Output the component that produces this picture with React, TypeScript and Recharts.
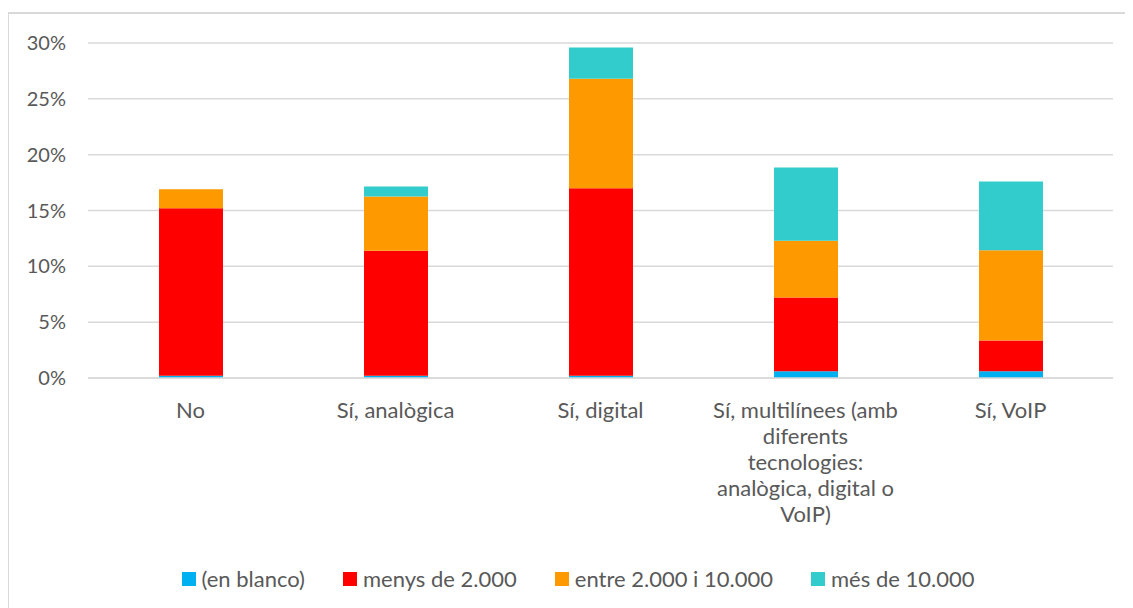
import { BarChart, Bar, XAxis, YAxis, CartesianGrid, Legend } from "recharts";

const categories = [
  "No",
  "Sí, analògica",
  "Sí, digital",
  "Sí, multilínees (amb\ndiferents\ntecnologies:\nanalògica, digital o\nVoIP)",
  "Sí, VoIP"
];
const enBlanco = [0.2, 0.2, 0.2, 0.6, 0.6];
const menys2000 = [15.0, 11.2, 16.8, 6.6, 2.75];
const entre2000i10000 = [1.7, 4.85, 9.8, 5.1, 8.1];
const mes10000 = [0, 0.9, 2.8, 6.55, 6.15];
const yTicks = [0, 5, 10, 15, 20, 25, 30];

const series = [
  { key: "blanco", name: "(en blanco)", color: "#00B0F0", values: enBlanco },
  { key: "menys", name: "menys de 2.000", color: "#FF0000", values: menys2000 },
  { key: "entre", name: "entre 2.000 i 10.000", color: "#FF9900", values: entre2000i10000 },
  { key: "mes", name: "més de 10.000", color: "#33CCCC", values: mes10000 }
];

const data = categories.map((c, i) => {
  const row: Record<string, string | number> = { name: c };
  series.forEach((s) => (row[s.key] = s.values[i]));
  return row;
});

const FONT = "Lato, 'Open Sans', sans-serif";
const TEXT = "#595959";

const CategoryTick = (props: any) => {
  const { x, y, payload } = props;
  const lines = String(payload.value).split("\n");
  return (
    <text x={x} y={y} textAnchor="middle" fill={TEXT} fontFamily={FONT} fontSize={22}>
      {lines.map((l, i) => (
        <tspan key={i} x={x} dy={i === 0 ? 32 : 26}>
          {l}
        </tspan>
      ))}
    </text>
  );
};

const renderLegend = () => (
  <div
    style={{
      display: "flex",
      justifyContent: "center",
      gap: 38,
      paddingLeft: 35,
      fontFamily: FONT,
      fontSize: 22,
      color: TEXT
    }}
  >
    {series.map((s) => (
      <div key={s.key} style={{ display: "flex", alignItems: "center" }}>
        <span style={{ width: 14, height: 14, background: s.color, marginRight: 6 }} />
        <span>{s.name}</span>
      </div>
    ))}
  </div>
);

export default function App() {
  return (
    <div style={{ position: "relative", width: 1125, height: 600 }}>
      <div
        style={{
          position: "absolute",
          left: -1,
          top: 4,
          width: 1126,
          height: 596,
          borderLeft: "2px solid #d9d9d9",
          borderTop: "2px solid #d9d9d9",
          boxSizing: "border-box"
        }}
      />
      <BarChart
        width={1125}
        height={600}
        data={data}
        barSize={64}
        margin={{ top: 35, right: 20, left: 0, bottom: 3 }}
      >
        <CartesianGrid vertical={false} stroke="#d9d9d9" strokeWidth={1.5} />
        <XAxis
          dataKey="name"
          interval={0}
          tick={<CategoryTick />}
          tickLine={false}
          axisLine={{ stroke: "#d9d9d9", strokeWidth: 1.5 }}
          height={187}
        />
        <YAxis
          width={80}
          domain={[0, 30]}
          ticks={yTicks}
          tickFormatter={(v: number) => `${v}%`}
          tickLine={false}
          axisLine={false}
          tickSize={0}
          tickMargin={22}
          tick={{ fill: TEXT, fontFamily: FONT, fontSize: 20 }}
        />
        <Legend verticalAlign="bottom" height={40} content={renderLegend} />
        {series.map((s) => (
          <Bar
            key={s.key}
            dataKey={s.key}
            name={s.name}
            stackId="a"
            fill={s.color}
            isAnimationActive={false}
          />
        ))}
      </BarChart>
    </div>
  );
}
